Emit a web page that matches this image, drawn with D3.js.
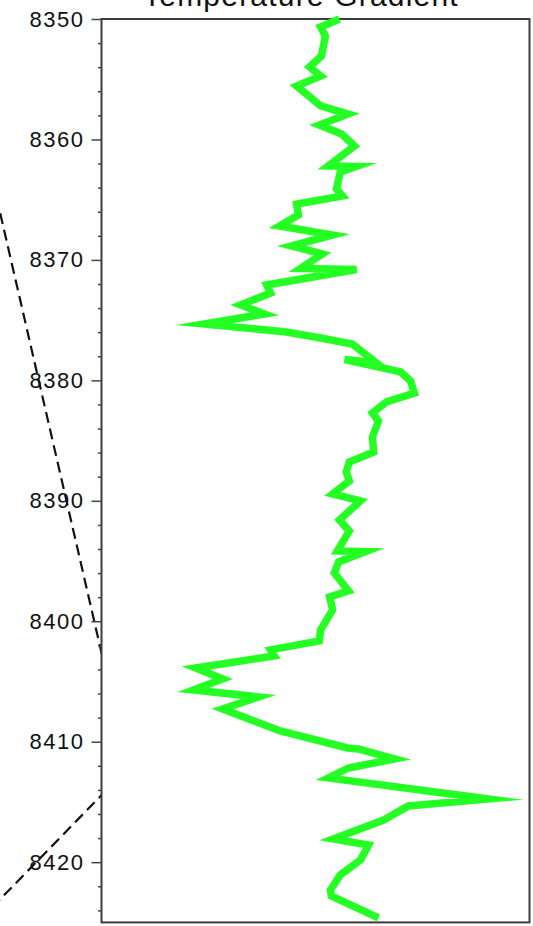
<!DOCTYPE HTML>
<html>
  <head>
    <script src="https://d3js.org/d3.v7.min.js"></script>
    <style>
      body, html {
        margin: 0;
        background: white;
      }
      .title {
        font-family: 'Liberation Sans', Arial, sans-serif;
        font-size: 30px;
        letter-spacing: 1.2px;
        text-anchor: middle;
        fill: #111;
      }
      .axis text {
        font-family: 'Liberation Sans', Arial, sans-serif;
        font-size: 22px;
        letter-spacing: 1.5px;
        fill: #111;
      }
      .axis line {
        stroke: #444;
        stroke-width: 1.5px;
      }
      .frame {
        fill: none;
        stroke: #3c3c3c;
        stroke-width: 2px;
      }
      .gradient {
        fill: none;
        stroke: #24ff24;
        stroke-width: 7.5px;
        stroke-linejoin: miter;
        stroke-miterlimit: 10;
      }
      .neighbor {
        fill: none;
        stroke: #111;
        stroke-width: 2.2px;
        stroke-dasharray: 11,6;
      }
    </style>
  </head>
  <body>
    <div id="chart"></div>
    <script>
      var depth = [8350.0, 8350.66, 8351.41, 8353.07, 8353.98, 8354.73, 8355.56, 8357.22, 8357.89, 8358.80,
                   8359.55, 8360.54, 8362.20, 8362.24, 8362.70, 8364.11, 8364.69, 8365.36, 8366.27, 8367.18,
                   8367.93, 8368.84, 8369.51, 8370.71, 8370.80, 8372.08, 8372.75, 8373.74, 8374.49, 8375.32,
                   8375.98, 8376.48, 8376.98, 8378.56, 8378.27, 8379.30, 8380.05, 8381.05, 8381.79, 8382.71,
                   8383.37, 8384.70, 8385.95, 8386.78, 8387.61, 8388.35, 8389.43, 8390.01, 8391.59, 8392.50,
                   8394.16, 8394.21, 8395.08, 8395.99, 8397.48, 8397.98, 8399.06, 8400.72, 8401.63, 8402.38,
                   8402.88, 8403.88, 8404.79, 8405.70, 8406.28, 8407.28, 8409.11, 8410.52, 8410.60, 8411.43,
                   8412.18, 8413.01, 8414.75, 8415.33, 8416.50, 8418.07, 8418.57, 8419.82, 8421.06, 8422.31,
                   8422.81, 8424.63];
      var gradient = [55.6, 51.2, 52.3, 51.4, 48.6, 51.2, 45.6, 51.2, 57.6, 50.9,
                      56.1, 59.1, 53.0, 59.5, 55.8, 54.9, 56.3, 45.6, 46.0, 41.6,
                      54.0, 44.4, 51.6, 46.5, 59.6, 38.6, 39.5, 32.5, 38.1, 24.0,
                      43.2, 51.2, 58.6, 64.3, 56.8, 69.9, 72.2, 73.1, 66.6, 63.3,
                      64.7, 63.3, 63.6, 57.9, 57.2, 57.9, 54.0, 60.5, 55.6, 57.9,
                      55.1, 61.7, 55.4, 54.4, 57.7, 53.3, 54.0, 51.2, 50.9, 39.5,
                      40.4, 22.0, 28.3, 21.5, 36.7, 28.3, 41.8, 57.5, 60.0, 68.5,
                      57.7, 53.0, 90.5, 71.7, 65.9, 54.2, 62.4, 60.5, 55.8, 53.5,
                      53.7, 64.7];

      // dashed curves of the neighbouring track (two straight runs)
      var neighborA = {depth: [8362, 8405], value: [0.626, 1.022]};
      var neighborB = {depth: [8413, 8425], value: [1.056, 0.589]};

      var majorTicks = d3.range(8350, 8421, 10);
      var minorTicks = d3.range(8352, 8425, 2).filter(d => d % 10 !== 0);
      var title = "Temperature Gradient";

      var width = 533, height = 926;
      var plot = {x0: 101.5, y0: 19, x1: 529.5, y1: 922.4};

      var svg = d3.select("#chart")
        .append("svg")
        .attr("width", width)
        .attr("height", height);

      var y = d3.scaleLinear().domain([8350, 8425]).range([plot.y0, plot.y1]);
      var x = d3.scaleLinear().domain([0, 100]).range([plot.x0, plot.x1]);
      var xNeighbor = d3.scaleLinear().domain([0, 1]).range([-200, plot.x0]);

      svg.append("defs").append("clipPath")
        .attr("id", "leftClip")
        .append("rect")
          .attr("x", 0)
          .attr("y", 0)
          .attr("width", plot.x0)
          .attr("height", height);

      var nLine = d3.line()
        .x(d => xNeighbor(d[1]))
        .y(d => y(d[0]));

      svg.append("g")
        .attr("clip-path", "url(#leftClip)")
        .selectAll("path")
        .data([neighborA, neighborB])
        .enter()
        .append("path")
          .attr("class", "neighbor")
          .attr("d", d => nLine(d3.zip(d.depth, d.value)));

      svg.append("text")
        .attr("class", "title")
        .attr("x", 301)
        .attr("y", 6)
        .text(title);

      svg.append("rect")
        .attr("class", "frame")
        .attr("x", plot.x0)
        .attr("y", plot.y0)
        .attr("width", plot.x1 - plot.x0)
        .attr("height", plot.y1 - plot.y0);

      var major = svg.append("g")
        .attr("class", "axis")
        .attr("transform", "translate(" + plot.x0 + ",0)")
        .call(d3.axisLeft(y).tickValues(majorTicks).tickSize(10).tickPadding(7).tickFormat(d3.format("d")));
      major.select(".domain").remove();

      var minor = svg.append("g")
        .attr("class", "axis")
        .attr("transform", "translate(" + plot.x0 + ",0)")
        .call(d3.axisLeft(y).tickValues(minorTicks).tickSize(3.5).tickFormat(""));
      minor.select(".domain").remove();

      var line = d3.line()
        .x((d, i) => x(gradient[i]))
        .y(d => y(d));

      svg.append("path")
        .attr("class", "gradient")
        .attr("d", line(depth));
    </script>
  </body>
</html>
